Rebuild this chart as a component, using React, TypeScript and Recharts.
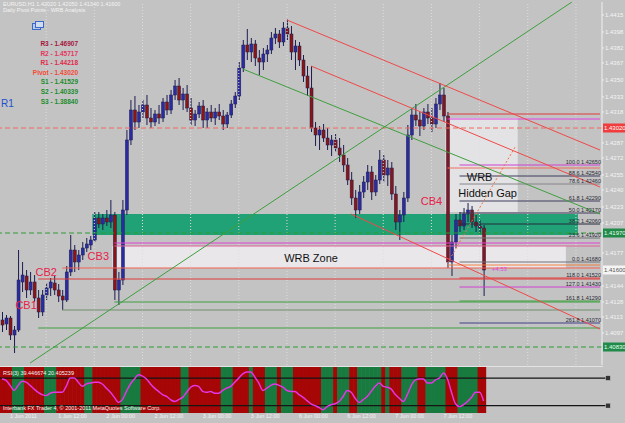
import React from 'react';
import {
  ComposedChart,
  Bar,
  Line,
  XAxis,
  YAxis,
  ReferenceLine,
  ReferenceArea,
  ReferenceDot,
} from 'recharts';

// EURUSD H1 candles: [open, high, low, close]
const ohlc: [number, number, number, number][] = [
  [1.4110, 1.4118, 1.4098, 1.4105], [1.4106, 1.4115, 1.4100, 1.4112], [1.4112, 1.4114, 1.4090, 1.4095],
  [1.4095, 1.4104, 1.4077, 1.4100], [1.4100, 1.4180, 1.4098, 1.4150], [1.4148, 1.4168, 1.4138, 1.4155],
  [1.4154, 1.4160, 1.4132, 1.4140], [1.4140, 1.4158, 1.4135, 1.4148], [1.4148, 1.4155, 1.4128, 1.4132],
  [1.4132, 1.4140, 1.4112, 1.4118], [1.4118, 1.4140, 1.4114, 1.4135], [1.4135, 1.4147, 1.4130, 1.4142],
  [1.4142, 1.4152, 1.4134, 1.4148], [1.4147, 1.4154, 1.4135, 1.4140], [1.4140, 1.4146, 1.4128, 1.4134],
  [1.4134, 1.4140, 1.4120, 1.4130], [1.4130, 1.4164, 1.4128, 1.4158], [1.4158, 1.4195, 1.4154, 1.4180],
  [1.4180, 1.4185, 1.4158, 1.4168], [1.4168, 1.4180, 1.4160, 1.4175], [1.4175, 1.4188, 1.4170, 1.4182],
  [1.4182, 1.4192, 1.4178, 1.4186], [1.4185, 1.4194, 1.4180, 1.4190], [1.4190, 1.4218, 1.4188, 1.4212],
  [1.4212, 1.4218, 1.4202, 1.4206], [1.4206, 1.4216, 1.4200, 1.4212], [1.4212, 1.4220, 1.4204, 1.4208],
  [1.4208, 1.4230, 1.4202, 1.4215], [1.4215, 1.4218, 1.4130, 1.4140], [1.4140, 1.4158, 1.4125, 1.4150],
  [1.4150, 1.4230, 1.4145, 1.4220], [1.4220, 1.4300, 1.4215, 1.4290], [1.4290, 1.4330, 1.4285, 1.4320],
  [1.4320, 1.4334, 1.4300, 1.4308], [1.4308, 1.4325, 1.4302, 1.4318], [1.4318, 1.4330, 1.4312, 1.4325],
  [1.4325, 1.4335, 1.4305, 1.4312], [1.4312, 1.4322, 1.4302, 1.4308], [1.4308, 1.4320, 1.4304, 1.4316],
  [1.4316, 1.4325, 1.4306, 1.4312], [1.4312, 1.4332, 1.4308, 1.4328], [1.4328, 1.4335, 1.4315, 1.4320],
  [1.4320, 1.4340, 1.4316, 1.4335], [1.4335, 1.4350, 1.4330, 1.4344], [1.4344, 1.4352, 1.4325, 1.4330],
  [1.4330, 1.4342, 1.4320, 1.4336], [1.4336, 1.4345, 1.4318, 1.4322], [1.4322, 1.4332, 1.4305, 1.4310],
  [1.4310, 1.4320, 1.4304, 1.4316], [1.4316, 1.4328, 1.4312, 1.4324], [1.4324, 1.4330, 1.4302, 1.4310],
  [1.4310, 1.4322, 1.4302, 1.4318], [1.4318, 1.4325, 1.4308, 1.4312], [1.4312, 1.4322, 1.4305, 1.4318],
  [1.4318, 1.4326, 1.4310, 1.4314], [1.4314, 1.4320, 1.4300, 1.4306], [1.4306, 1.4318, 1.4302, 1.4315],
  [1.4315, 1.4330, 1.4312, 1.4326], [1.4326, 1.4338, 1.4322, 1.4334], [1.4334, 1.4368, 1.4330, 1.4362],
  [1.4362, 1.4390, 1.4358, 1.4385], [1.4385, 1.4401, 1.4370, 1.4378], [1.4378, 1.4392, 1.4368, 1.4386],
  [1.4386, 1.4390, 1.4364, 1.4372], [1.4372, 1.4380, 1.4355, 1.4368], [1.4368, 1.4382, 1.4360, 1.4376],
  [1.4376, 1.4385, 1.4368, 1.4380], [1.4380, 1.4398, 1.4376, 1.4392], [1.4392, 1.4402, 1.4386, 1.4396],
  [1.4396, 1.4400, 1.4382, 1.4388], [1.4388, 1.4408, 1.4384, 1.4402], [1.4402, 1.4411, 1.4390, 1.4396],
  [1.4396, 1.4404, 1.4370, 1.4378], [1.4378, 1.4390, 1.4360, 1.4384], [1.4384, 1.4388, 1.4364, 1.4370],
  [1.4370, 1.4375, 1.4348, 1.4354], [1.4354, 1.4364, 1.4334, 1.4342], [1.4342, 1.4364, 1.4298, 1.4302],
  [1.4302, 1.4308, 1.4284, 1.4295], [1.4295, 1.4304, 1.4280, 1.4300], [1.4300, 1.4306, 1.4288, 1.4292],
  [1.4292, 1.4302, 1.4280, 1.4285], [1.4285, 1.4295, 1.4274, 1.4290], [1.4290, 1.4296, 1.4278, 1.4282],
  [1.4282, 1.4292, 1.4268, 1.4275], [1.4275, 1.4285, 1.4258, 1.4265], [1.4265, 1.4272, 1.4245, 1.4250],
  [1.4250, 1.4258, 1.4225, 1.4232], [1.4232, 1.4240, 1.4212, 1.4220], [1.4220, 1.4245, 1.4216, 1.4238],
  [1.4238, 1.4254, 1.4232, 1.4248], [1.4248, 1.4265, 1.4240, 1.4258], [1.4258, 1.4264, 1.4230, 1.4238],
  [1.4238, 1.4255, 1.4234, 1.4250], [1.4250, 1.4280, 1.4246, 1.4270], [1.4270, 1.4275, 1.4248, 1.4255],
  [1.4255, 1.4270, 1.4244, 1.4262], [1.4262, 1.4268, 1.4230, 1.4236], [1.4236, 1.4244, 1.4200, 1.4208],
  [1.4208, 1.4220, 1.4190, 1.4215], [1.4215, 1.4238, 1.4208, 1.4232], [1.4232, 1.4305, 1.4228, 1.4295],
  [1.4295, 1.4322, 1.4290, 1.4315], [1.4315, 1.4326, 1.4304, 1.4310], [1.4310, 1.4318, 1.4294, 1.4304],
  [1.4304, 1.4322, 1.4300, 1.4318], [1.4318, 1.4326, 1.4306, 1.4312], [1.4312, 1.4322, 1.4298, 1.4306],
  [1.4306, 1.4332, 1.4302, 1.4326], [1.4326, 1.4347, 1.4320, 1.4335], [1.4335, 1.4342, 1.4308, 1.4314],
  [1.4314, 1.4318, 1.4162, 1.4168], [1.4168, 1.4195, 1.4154, 1.4188], [1.4188, 1.4216, 1.4182, 1.4210],
  [1.4210, 1.4218, 1.4198, 1.4204], [1.4204, 1.4222, 1.4200, 1.4216], [1.4216, 1.4227, 1.4208, 1.4220],
  [1.4220, 1.4224, 1.4202, 1.4208], [1.4208, 1.4215, 1.4198, 1.4204], [1.4204, 1.4210, 1.4196, 1.4202],
  [1.4202, 1.4205, 1.4134, 1.4160],
];

// RSI(3) per candle
const rsi3 = [
  78, 75, 64, 53, 64, 73, 71, 64, 56, 49, 44, 42, 47, 49, 49, 49, 62, 80, 80, 71,
  62, 67, 69, 71, 71, 67, 58, 49, 38, 27, 33, 51, 67, 78, 87, 84, 78, 67, 58, 51,
  44, 40, 33, 29, 33, 38, 49, 60, 64, 62, 51, 49, 51, 47, 47, 53, 58, 62, 71, 80,
  89, 93, 93, 82, 69, 53, 58, 64, 67, 64, 60, 53, 51, 51, 44, 38, 31, 24, 20, 16,
  11, 18, 22, 24, 29, 40, 53, 49, 36, 27, 33, 40, 51, 62, 69, 62, 60, 56, 44, 36,
  29, 44, 64, 76, 78, 78, 69, 69, 76, 80, 91, 78, 49, 24, 18, 22, 29, 38, 49, 49,
  30,
];

// candle spans where the indicator background is green (else red)
const greenSpans: [number, number][] = [
  [3, 5], [11, 13], [21, 22], [30, 34], [45, 46], [55, 57], [62, 62], [66, 68], [70, 72],
  [80, 82], [84, 86], [89, 94], [96, 96], [100, 103], [106, 110], [114, 118],
];

const priceTicks = [
  1.4415, 1.4398, 1.4382, 1.4367, 1.435, 1.4333, 1.4318, 1.4287, 1.4272, 1.4255, 1.424,
  1.4223, 1.4207, 1.4177, 1.4144, 1.4128, 1.4113, 1.4097,
];

const pivots = [
  { name: 'R3', value: '1.46907', color: '#a3163c' },
  { name: 'R2', value: '1.45717', color: '#e33660' },
  { name: 'R1', value: '1.44218', color: '#e02a4a' },
  { name: 'Pivot', value: '1.43020', color: '#f44a36' },
  { name: 'S1', value: '1.41529', color: '#1d8c2e' },
  { name: 'S2', value: '1.40339', color: '#1d8c2e' },
  { name: 'S3', value: '1.38840', color: '#1d8c2e' },
];

const dashedLevels = [
  { p: 1.4302, color: '#f06a5a' },
  { p: 1.4197, color: '#2f9a36' },
  { p: 1.4083, color: '#2f9a36' },
];

// horizontal objects drawn from a candle to the right edge
const rays = [
  { p: 1.4316, from: 111, color: '#e03a3a' },
  { p: 1.4311, from: 111, color: '#e040e0' },
  { p: 1.4262, from: 111, color: '#f07060' },
  { p: 1.4187, from: 28, color: '#e040d0' },
  { p: 1.4184, from: 28, color: '#e0609a' },
  { p: 1.4165, from: 111, color: '#f08040' },
  { p: 1.4162, from: 15, color: '#f06050' },
  { p: 1.4151, from: 9, color: '#e03a3a' },
  { p: 1.4128, from: 28, color: '#3f9f3f' },
  { p: 1.412, from: 15, color: '#6f8f6f' },
  { p: 1.4102, from: 9, color: '#3f9f3f' },
];

const fibLevels = [
  { level: '100.0', p: 1.4265, color: '#d040d0' },
  { level: '88.6', p: 1.4254, color: '#3c3c5c' },
  { level: '78.6', p: 1.4246, color: '#85858c' },
  { level: '61.8', p: 1.4229, color: '#3c3c5c' },
  { level: '50.0', p: 1.4217, color: '#3c3c5c' },
  { level: '38.2', p: 1.4206, color: '#24283c' },
  { level: '23.6', p: 1.4192, color: '#707078' },
  { level: '0.0', p: 1.4168, color: '#707078' },
  { level: '118.0', p: 1.4152, color: '#e03a3a' },
  { level: '127.0', p: 1.4143, color: '#d040d0' },
  { level: '161.8', p: 1.4129, color: '#3f9f3f' },
  { level: '261.8', p: 1.4107, color: '#40408a' },
];

// trend lines: [fromSlot, fromPrice, toSlot, toPrice]
const trendLines = [
  { a: [7, 1.4067], b: [142, 1.4428], color: '#3f9f3f', dash: '' },
  { a: [60, 1.4361], b: [149, 1.4216], color: '#3f9f3f', dash: '' },
  { a: [71, 1.441], b: [149, 1.428], color: '#f04848', dash: '' },
  { a: [77, 1.4364], b: [149, 1.4243], color: '#f04848', dash: '' },
  { a: [87, 1.4216], b: [149, 1.4101], color: '#f04848', dash: '' },
  { a: [111, 1.4167], b: [128, 1.4284], color: '#f07040', dash: '2 2' },
];

const zones = [
  { x1: 111, x2: 128, y1: 1.4218, y2: 1.4312, fill: '#e3e3e5' },
  { x1: 28, x2: 140, y1: 1.4162, y2: 1.4184, fill: '#e9e7ea' },
  { x1: 23, x2: 143, y1: 1.4195, y2: 1.4216, fill: '#21a276' },
];

const notes = [
  { x: 6, p: 1.4125, text: 'CB1', color: '#e8204a' },
  { x: 11, p: 1.4158, text: 'CB2', color: '#e8204a' },
  { x: 24, p: 1.4174, text: 'CB3', color: '#e8204a' },
  { x: 107, p: 1.4229, text: 'CB4', color: '#e8204a' },
  { x: 77, p: 1.4172, text: 'WRB Zone', color: '#111' },
  { x: 119, p: 1.4253, text: 'WRB', color: '#111' },
  { x: 121, p: 1.4237, text: 'Hidden Gap', color: '#111' },
];

const axisTags = [
  { p: 1.4302, text: '1.43020', fill: '#f03c3c', color: '#fff' },
  { p: 1.4197, text: '1.41970', fill: '#1f8a4a', color: '#e8ffe8' },
  { p: 1.416, text: '1.41600', fill: '#f4f4f4', color: '#555' },
  { p: 1.4083, text: '1.40830', fill: '#1f8a4a', color: '#e8ffe8' },
];

const gridSlots = [11, 23, 35, 47, 59, 71, 83, 95, 107, 119, 131, 143];

const timeTicks = [
  { slot: 2, text: '1 Jun 2011' },
  { slot: 14, text: '1 Jun 12:00' },
  { slot: 26, text: '2 Jun 00:00' },
  { slot: 38, text: '2 Jun 12:00' },
  { slot: 50, text: '3 Jun 00:00' },
  { slot: 62, text: '3 Jun 12:00' },
  { slot: 74, text: '6 Jun 00:00' },
  { slot: 86, text: '6 Jun 12:00' },
  { slot: 98, text: '7 Jun 00:00' },
  { slot: 110, text: '7 Jun 12:00' },
];

const SLOTS = 150;
const RSI_SLOTS = 152;
const BG = '#c3c3c3';
const FONT = '"Liberation Sans", Arial, sans-serif';

const mainRows = Array.from({ length: SLOTS }, (_, i) => {
  const k = ohlc[i];
  return k ? { i, o: k[0], h: k[1], l: k[2], c: k[3], range: [k[2], k[1]] } : { i };
});

const isGreen = (i: number) => greenSpans.some(([s, e]) => i >= s && i <= e);
const rsiRows = Array.from({ length: RSI_SLOTS }, (_, i) =>
  i < ohlc.length ? { i, rsi: rsi3[i], band: [4, 104], green: isGreen(i) } : { i },
);

const Candle = (props: any) => {
  const { x, y, width, height, payload } = props;
  if (!payload || payload.o == null) return null;
  const top = Math.min(y, y + height);
  const h = Math.abs(height);
  const k = h / (payload.h - payload.l || 1e-9);
  const yO = top + (payload.h - payload.o) * k;
  const yC = top + (payload.h - payload.c) * k;
  const bull = payload.c >= payload.o;
  const cx = x + width / 2;
  return (
    <g>
      <line x1={cx} x2={cx} y1={top} y2={top + h} stroke="#1c1c52" strokeWidth={1} />
      <rect
        x={x}
        y={Math.min(yO, yC)}
        width={width}
        height={Math.max(1, Math.abs(yC - yO))}
        fill={bull ? '#2b2ba0' : '#8c1414'}
        stroke="#1c1c52"
        strokeWidth={0.5}
      />
    </g>
  );
};

const Stripe = (props: any) => {
  const { x, y, width, height, payload } = props;
  if (!payload || payload.rsi == null) return null;
  return <rect x={x} y={y} width={width + 0.6} height={height} fill={payload.green ? '#187a3e' : '#a60606'} />;
};

export default function App() {
  return (
    <div
      style={{
        position: 'absolute',
        left: 0,
        top: 0,
        width: 625,
        height: 423,
        background: BG,
        overflow: 'hidden',
        fontFamily: FONT,
      }}
    >
      <div style={{ position: 'absolute', left: 0, top: 0 }}>
        <ComposedChart width={625} height={366} data={mainRows} margin={{ top: 2, right: 0, bottom: 1, left: 0 }}>
          <XAxis dataKey="i" type="category" hide />
          <YAxis
            orientation="right"
            width={23}
            domain={[1.4065, 1.4428]}
            allowDataOverflow
            ticks={priceTicks}
            interval={0}
            tickFormatter={(v: number) => v.toFixed(4)}
            tick={{ fill: '#f4f4f4', fontSize: 6, fontFamily: FONT }}
            tickSize={2}
            tickMargin={1}
            axisLine={{ stroke: '#f0f0f0' }}
            tickLine={{ stroke: '#f0f0f0' }}
          />
          {zones.map((z, n) => (
            <ReferenceArea key={'z' + n} x1={z.x1} x2={z.x2} y1={z.y1} y2={z.y2} fill={z.fill} fillOpacity={1} stroke="none" ifOverflow="hidden" />
          ))}
          {gridSlots.map((s) => (
            <ReferenceLine key={'g' + s} x={s} stroke="#dedede" strokeDasharray="1 2" />
          ))}
          {dashedLevels.map((d, n) => (
            <ReferenceLine key={'d' + n} y={d.p} stroke={d.color} strokeDasharray="5 3" />
          ))}
          {rays.map((r, n) => (
            <ReferenceLine key={'r' + n} segment={[{ x: r.from, y: r.p }, { x: 149, y: r.p }]} stroke={r.color} ifOverflow="hidden" />
          ))}
          {fibLevels.map((f, n) => (
            <ReferenceLine key={'f' + n} segment={[{ x: 114, y: f.p }, { x: 149, y: f.p }]} stroke={f.color} ifOverflow="hidden" />
          ))}
          {trendLines.map((t, n) => (
            <ReferenceLine
              key={'t' + n}
              segment={[{ x: t.a[0], y: t.a[1] }, { x: t.b[0], y: t.b[1] }]}
              stroke={t.color}
              strokeDasharray={t.dash || undefined}
              ifOverflow="hidden"
            />
          ))}
          <Bar dataKey="range" shape={Candle} barSize={3} isAnimationActive={false} />
          {fibLevels.map((f, n) => (
            <ReferenceDot
              key={'fl' + n}
              x={149}
              y={f.p}
              r={0}
              shape={(p: any) => (
                <text x={p.cx + 1} y={p.cy - 1} textAnchor="end" fontSize={5.5} fill="#2a2a34" fontFamily={FONT}>
                  {f.level + '  ' + f.p.toFixed(5)}
                </text>
              )}
            />
          ))}
          {notes.map((t, n) => (
            <ReferenceDot
              key={'n' + n}
              x={t.x}
              y={t.p}
              r={0}
              shape={(p: any) => (
                <text x={p.cx} y={p.cy + 4} textAnchor="middle" fontSize={11} fill={t.color} fontFamily={FONT}>
                  {t.text}
                </text>
              )}
            />
          ))}
          <ReferenceDot
            x={122}
            y={1.4161}
            r={0}
            shape={(p: any) => (
              <text x={p.cx} y={p.cy + 2} fontSize={6} fill="#e040e0" fontFamily={FONT}>
                +4.53
              </text>
            )}
          />
          {axisTags.map((t, n) => (
            <ReferenceDot
              key={'a' + n}
              x={149}
              y={t.p}
              r={0}
              ifOverflow="visible"
              shape={(p: any) => (
                <g>
                  <rect x={p.cx + 3} y={p.cy - 4.5} width={22} height={9} fill={t.fill} />
                  <text x={p.cx + 4} y={p.cy + 2.2} fontSize={6} fill={t.color} fontFamily={FONT}>
                    {t.text}
                  </text>
                </g>
              )}
            />
          ))}
        </ComposedChart>
      </div>

      <div style={{ position: 'absolute', left: 0, top: 366, width: 603, height: 1, background: '#e4e4e4' }} />

      <div style={{ position: 'absolute', left: 0, top: 367 }}>
        <ComposedChart
          width={625}
          height={56}
          data={rsiRows}
          margin={{ top: 0, right: 15, bottom: 0, left: 0 }}
          barCategoryGap={0}
        >
          <XAxis
            dataKey="i"
            type="category"
            height={10}
            ticks={timeTicks.map((t) => t.slot)}
            interval={0}
            tickFormatter={(v: number) => timeTicks.find((t) => t.slot === v)?.text ?? ''}
            tick={{ fill: '#f4f4f4', fontSize: 5.5, fontFamily: FONT, textAnchor: 'start' }}
            tickSize={0}
            tickMargin={1}
            axisLine={false}
          />
          <YAxis hide domain={[4, 104]} allowDataOverflow />
          <Bar dataKey="band" shape={Stripe} isAnimationActive={false} />
          <ReferenceLine y={80} stroke="#151515" strokeWidth={1.2} />
          <ReferenceLine y={20} stroke="#151515" strokeWidth={1.2} />
          <Line dataKey="rsi" type="monotone" stroke="#e535e5" strokeWidth={1.5} dot={false} isAnimationActive={false} />
          {[80, 20].map((lv) => (
            <ReferenceDot
              key={lv}
              x={151}
              y={lv}
              r={0}
              ifOverflow="visible"
              shape={(p: any) => <rect x={p.cx - 2.5} y={p.cy - 2.5} width={5} height={5} fill="#333" stroke="#ddd" strokeWidth={0.5} />}
            />
          ))}
        </ComposedChart>
      </div>

      <div style={{ position: 'absolute', left: 3, top: 370, fontSize: 5.5, color: '#f4f4f4', whiteSpace: 'nowrap' }}>
        RSI(3) 39.446674 20.405239
      </div>
      <div style={{ position: 'absolute', left: 3, top: 405, fontSize: 5.5, color: '#f4f4f4', whiteSpace: 'nowrap' }}>
        Interbank FX Trader 4, © 2001-2011 MetaQuotes Software Corp.
      </div>

      <div style={{ position: 'absolute', left: 3, top: 1, fontSize: 5.5, lineHeight: '6px', color: '#f4f4f4', whiteSpace: 'nowrap' }}>
        <div>EURUSD,H1  1.42020 1.42050 1.41340 1.41600</div>
        <div>Daily Pivot Points - WRB Analysis</div>
      </div>

      <svg style={{ position: 'absolute', left: 32, top: 21 }} width={12} height={10}>
        <rect x={0.5} y={2.5} width={8} height={6} fill="#b8c8e8" stroke="#3a6ac8" />
        <rect x={3.5} y={0.5} width={8} height={6} fill="#d0dcf0" stroke="#3a6ac8" />
      </svg>

      <div
        style={{
          position: 'absolute',
          left: 20,
          top: 39,
          width: 58,
          textAlign: 'right',
          fontSize: 6.5,
          fontWeight: 'bold',
          lineHeight: '9.6px',
          whiteSpace: 'nowrap',
        }}
      >
        {pivots.map((p) => (
          <div key={p.name} style={{ color: p.color }}>
            {p.name} - {p.value}
          </div>
        ))}
      </div>

      <div style={{ position: 'absolute', left: 1, top: 99, fontSize: 10, color: '#2050d0', lineHeight: '10px' }}>
        R1
      </div>
    </div>
  );
}
